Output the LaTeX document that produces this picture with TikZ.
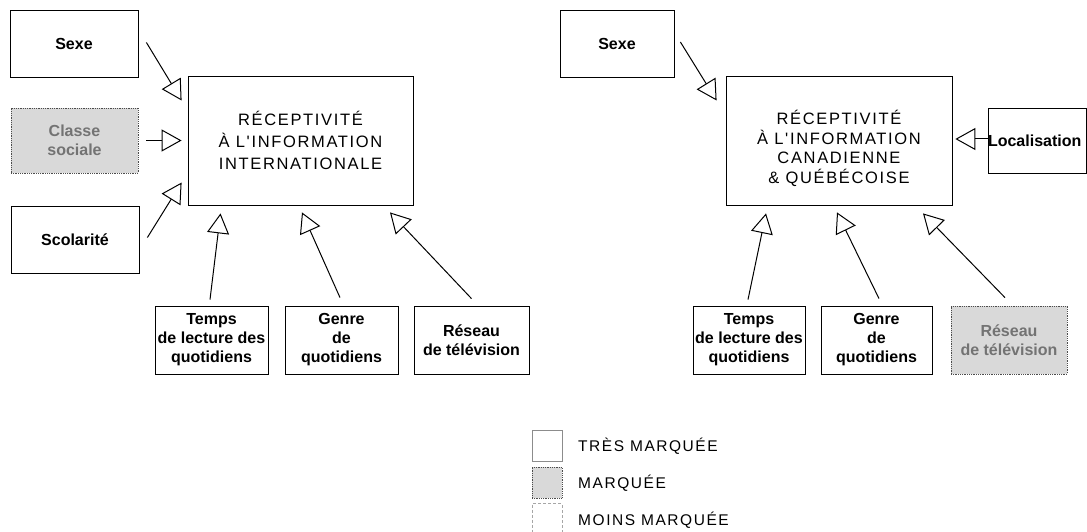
\documentclass[tikz,border=0pt]{standalone}
\usepackage{fontspec}
\setmainfont{Liberation Sans}
\newfontfamily\trackfont[LetterSpace=10]{Liberation Sans}
\usetikzlibrary{arrows.meta}
\begin{document}
\begin{tikzpicture}[x=1pt,y=-1pt,
  fact/.style={draw,line width=0.8pt,inner sep=0pt,align=center,
    font=\bfseries\fontsize{16}{19}\selectfont},
  greyfact/.style={fact,fill=black!15,draw=black!70,densely dotted,text=black!55},
  title/.style={draw,line width=0.8pt,inner sep=0pt,align=center,
    minimum width=225pt,minimum height=129pt},
  infl/.style={line width=1pt,-{Triangle[open,length=20pt,width=22pt]}},
  legbox/.style={minimum width=30pt,minimum height=31pt,inner sep=0pt},
  legtext/.style={anchor=west,inner sep=0pt,font=\trackfont\fontsize{15.5}{17}\selectfont}]
\useasboundingbox (0,0) rectangle (1087,532);
% international
\node [fact,minimum width=128pt,minimum height=67pt] (sexeA) at (74,43.5) {Sexe};
\node [greyfact,minimum width=127pt,minimum height=65pt] (classeA) at (74.5,140.5) {Classe\\sociale};
\node [fact,minimum width=128pt,minimum height=67pt] (scolA) at (75,239.5) {Scolarité};
\node [title,font=\trackfont\fontsize{16.5}{22}\selectfont] (recepA) at (300.5,140.5) {RÉCEPTIVITÉ\\À L'INFORMATION\\INTERNATIONALE};
\node [fact,minimum width=113pt,minimum height=68pt] (tempsA) at (211.5,340) {Temps\\de lecture des\\quotidiens};
\node [fact,minimum width=113pt,minimum height=68pt] (genreA) at (341.5,340) {Genre\\de\\quotidiens};
\node [fact,minimum width=115pt,minimum height=68pt] (reseauA) at (471.5,340) {Réseau\\de télévision};
\draw [infl] ([xshift=8pt,yshift=1pt]sexeA.east) -- ([xshift=-6pt,yshift=40pt]recepA.west);
\draw [infl] ([xshift=8pt]classeA.east) -- ([xshift=-6pt]recepA.west);
\draw [infl] ([xshift=8pt,yshift=2pt]scolA.east) -- ([xshift=-6pt,yshift=-42pt]recepA.west);
\draw [infl] ([xshift=-1.5pt,yshift=6pt]tempsA.north) -- ([xshift=-80pt,yshift=-8pt]recepA.south);
\draw [infl] ([xshift=-1.5pt,yshift=8pt]genreA.north) -- ([xshift=1.5pt,yshift=-7pt]recepA.south);
\draw [infl] ([yshift=7pt]reseauA.north) -- ([xshift=89.5pt,yshift=-7pt]recepA.south);
% canadienne & quebecoise
\node [fact,minimum width=114pt,minimum height=67pt] (sexeB) at (617,43.5) {Sexe};
\node [title,minimum width=226pt,font=\trackfont\fontsize{16.5}{19}\selectfont] (recepB) at (839,140.5)
  {\raisebox{-14pt}[0pt][0pt]{\begin{tabular}{@{}c@{}}RÉCEPTIVITÉ\\À L'INFORMATION\\CANADIENNE\\\& QUÉBÉCOISE\end{tabular}}};
\node [fact,minimum width=98pt,minimum height=65pt] (locB) at (1037,140.5) {\makebox[0pt][l]{\hspace{-49pt}Localisation}};
\node [fact,minimum width=112pt,minimum height=68pt] (tempsB) at (749,340) {Temps\\de lecture des\\quotidiens};
\node [fact,minimum width=111pt,minimum height=68pt] (genreB) at (876.5,340) {Genre\\de\\quotidiens};
\node [greyfact,minimum width=116pt,minimum height=68pt] (reseauB) at (1009,340) {Réseau\\de télévision};
\draw [infl] ([xshift=6pt,yshift=1.5pt]sexeB.east) -- ([xshift=-9pt,yshift=40pt]recepB.west);
\draw [infl] ([yshift=1.5pt]locB.west) -- ([xshift=3pt,yshift=1.5pt]recepB.east);
\draw [infl] ([xshift=-1pt,yshift=6pt]tempsB.north) -- ([xshift=-73pt,yshift=-8pt]recepB.south);
\draw [infl] ([xshift=2.5pt,yshift=7pt]genreB.north) -- ([xshift=-2pt,yshift=-7pt]recepB.south);
\draw [infl] ([xshift=-4pt,yshift=8pt]reseauB.north) -- ([xshift=84pt,yshift=-8pt]recepB.south);
% legende
\node [legbox,draw=black!45,line width=0.6pt] (legTres) at (547,445.5) {};
\node [legbox,fill=black!15,draw=black!70,densely dotted,line width=0.8pt] (legMarq) at (547,482.5) {};
\node [legbox,draw=black!35,densely dashed,line width=0.6pt,minimum height=29pt] (legMoins) at (547,518) {};
\node [legtext] (txtTres) at (578,446) {TRÈS MARQUÉE};
\node [legtext] (txtMarq) at (578,483) {MARQUÉE};
\node [legtext] (txtMoins) at (578,520) {MOINS MARQUÉE};
\end{tikzpicture}
\end{document}
